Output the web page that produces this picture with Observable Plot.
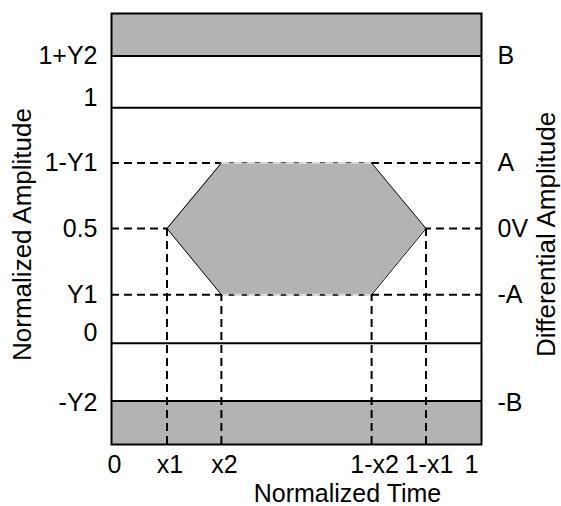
<!DOCTYPE html>
<html>
<head>
<meta charset="utf-8">
<script src="https://cdn.jsdelivr.net/npm/d3@7"></script>
<script src="https://cdn.jsdelivr.net/npm/@observablehq/plot@0.6"></script>
<style>
  html, body { margin: 0; padding: 0; background: #fff; }
  #chart svg { display: block; }
</style>
</head>
<body>
<div id="chart"></div>
<script>
// Time positions (normalized)
const timeTicks = [0, 0.15, 0.297, 0.703, 0.85, 1];
const timeLabels = ["0", "x1", "x2", "1-x2", "1-x1", "1"];
// Amplitude levels (normalized)
const yTop = 1.40, yBottom = -0.43;
const levels = { onePlusY2: 1.22, one: 1.0, oneMinusY1: 0.765, half: 0.487, y1: 0.206, zero: 0, minusY2: -0.245 };
const ampLabels = ["1+Y2", "1", "1-Y1", "0.5", "Y1", "0", "-Y2"];
const ampLabelY = [1.22, 1.04, 0.765, 0.487, 0.206, 0.045, -0.255];
const diffLabels = ["B", "A", "0V", "-A", "-B"];
const diffLabelY = [1.22, 0.765, 0.487, 0.206, -0.255];
// Eye mask hexagon
const eyeX = [0.15, 0.297, 0.703, 0.85];
const eyeLow = [0.487, 0.206, 0.206, 0.487];
const eyeHigh = [0.487, 0.765, 0.765, 0.487];

const gray = "#b3b3b3";
const font = "'Liberation Sans', Arial, Helvetica, sans-serif";
const fs = 25;
const titleFs = 26;

const eye = eyeX.map((x, i) => ({x, lo: eyeLow[i], hi: eyeHigh[i]}));
const slants = [
  {x1: eyeX[0], y1: eyeHigh[0], x2: eyeX[1], y2: eyeHigh[1]},
  {x1: eyeX[2], y1: eyeHigh[2], x2: eyeX[3], y2: eyeHigh[3]},
  {x1: eyeX[0], y1: eyeLow[0], x2: eyeX[1], y2: eyeLow[1]},
  {x1: eyeX[2], y1: eyeLow[2], x2: eyeX[3], y2: eyeLow[3]}
];
const vDash = [
  {x: timeTicks[1], y: levels.half},
  {x: timeTicks[2], y: levels.y1},
  {x: timeTicks[3], y: levels.y1},
  {x: timeTicks[4], y: levels.half}
];
const tickData = timeTicks.map((x, i) => ({x, label: timeLabels[i]}));

const chart = Plot.plot({
  width: 561,
  height: 506,
  marginLeft: 111,
  marginRight: 80,
  marginTop: 13,
  marginBottom: 62,
  x: {domain: [0, 1], axis: null},
  y: {domain: [yBottom, yTop], axis: null},
  style: {fontFamily: font, fontSize: fs + "px", background: "#fff", overflow: "visible"},
  marks: [
    // gray bands
    Plot.rect([{}], {x1: 0, x2: 1, y1: levels.onePlusY2, y2: yTop, fill: gray}),
    Plot.rect([{}], {x1: 0, x2: 1, y1: yBottom, y2: levels.minusY2, fill: gray}),
    // dashed horizontal guides
    Plot.ruleY([levels.oneMinusY1, levels.half, levels.y1], {x1: 0, x2: 1, stroke: "#000", strokeWidth: 2, strokeDasharray: "8,5"}),
    // eye mask
    Plot.areaY(eye, {x: "x", y1: "lo", y2: "hi", fill: gray, curve: "linear"}),
    Plot.ruleY([levels.oneMinusY1, levels.y1], {x1: eyeX[1], x2: eyeX[2], stroke: "#d8d8d8", strokeWidth: 2, strokeDasharray: "8,5"}),
    Plot.link(slants, {x1: "x1", y1: "y1", x2: "x2", y2: "y2", stroke: "#000", strokeWidth: 1}),
    // vertical dashed guides
    Plot.ruleX(vDash, {x: "x", y1: yBottom, y2: "y", stroke: "#000", strokeWidth: 2, strokeDasharray: "8,5"}),
    // solid level lines
    Plot.ruleY([levels.onePlusY2, levels.one, levels.zero, levels.minusY2], {x1: 0, x2: 1, stroke: "#000", strokeWidth: 2}),
    Plot.frame({stroke: "#000", strokeWidth: 2}),
    // left labels
    Plot.text(ampLabels, {x: 0, y: (d, i) => ampLabelY[i], text: d => d, textAnchor: "end", dx: -14, fontSize: fs, fill: "#000"}),
    // right labels
    Plot.text(diffLabels, {x: 1, y: (d, i) => diffLabelY[i], text: d => d, textAnchor: "start", dx: 16, fontSize: fs, fill: "#000"}),
    // time tick labels
    Plot.text(tickData.filter(d => d.x < 1), {x: "x", y: yBottom, text: "label", textAnchor: "middle", dx: 3, dy: 20, fontSize: fs, fill: "#000"}),
    Plot.text(tickData.filter(d => d.x === 1), {x: "x", y: yBottom, text: "label", textAnchor: "end", dx: -3, dy: 20, fontSize: fs, fill: "#000"}),
    // axis titles
    Plot.text(["Normalized Time"], {frameAnchor: "bottom", text: d => d, textAnchor: "middle", lineAnchor: "middle", dx: 51, dy: 49, fontSize: fs, fill: "#000"}),
    Plot.text(["Normalized Amplitude"], {frameAnchor: "left", text: d => d, textAnchor: "middle", lineAnchor: "middle", rotate: -90, dx: -89, dy: 5.5, fontSize: titleFs, fill: "#000"}),
    Plot.text(["Differential Amplitude"], {frameAnchor: "right", text: d => d, textAnchor: "middle", lineAnchor: "middle", rotate: -90, dx: 65, dy: 5.5, fontSize: titleFs, fill: "#000"})
  ]
});
document.getElementById("chart").appendChild(chart);
</script>
</body>
</html>
